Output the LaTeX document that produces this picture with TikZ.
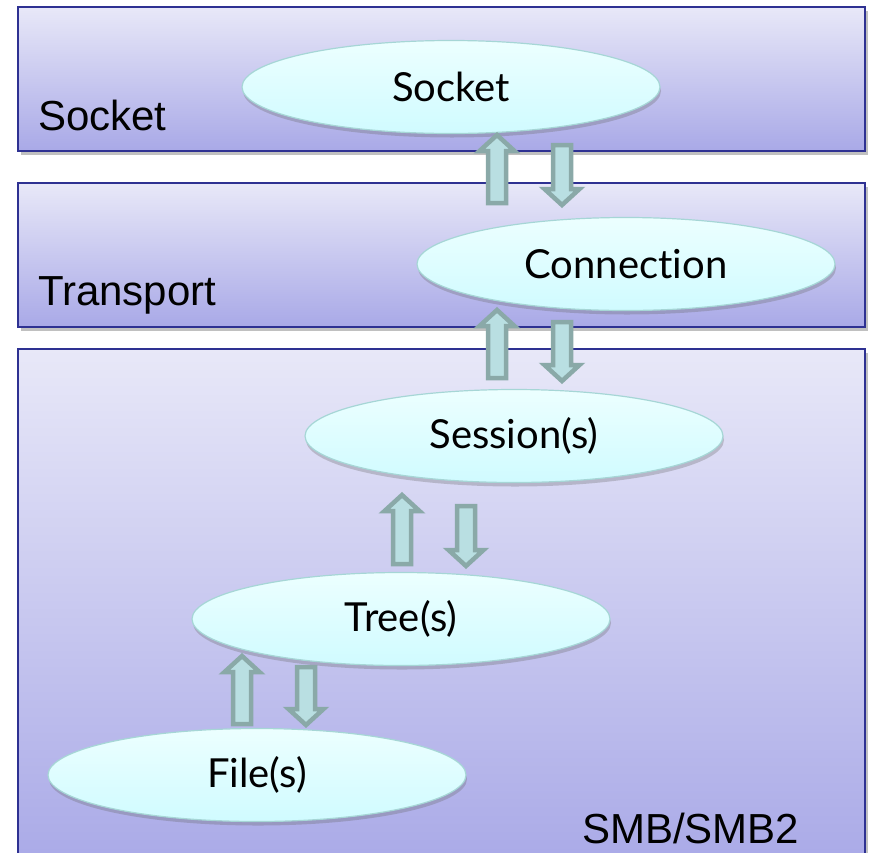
\documentclass[tikz,border=0pt]{standalone}
\usepackage{fontspec}
\setmainfont{Liberation Sans}
\newfontfamily\gill[Ligatures=NoCommon]{Lato}
\usetikzlibrary{shapes.geometric,shadows}
\definecolor{boxtop}{HTML}{E8E8F8}
\definecolor{boxbot}{HTML}{A9A9E7}
\definecolor{boxline}{HTML}{2E3192}
\definecolor{elltop}{HTML}{ECFFFF}
\definecolor{ellbot}{HTML}{D0FBFF}
\definecolor{ellline}{HTML}{A6D6D6}
\definecolor{arrfill}{HTML}{B9DFE2}
\definecolor{arrline}{HTML}{8AA9A8}
\tikzset{
  layerbox/.style={draw=boxline, line width=1.5pt, top color=boxtop, bottom color=boxbot,
    drop shadow={shadow xshift=3pt, shadow yshift=-4pt, opacity=0.35, fill=black!70},
    anchor=north west, inner sep=0pt, minimum width=847pt},
  layerlabel/.style={font=\fontsize{42}{48}\selectfont, anchor=base west, inner sep=0pt},
  entity/.style={ellipse, draw=ellline, line width=1.2pt, top color=elltop, bottom color=ellbot,
    minimum width=418pt, minimum height=93pt, inner sep=0pt,
    drop shadow={shadow xshift=1pt, shadow yshift=-4pt, opacity=0.3, fill=black!60},
    font=\gill\fontsize{40}{46}\selectfont},
  blockarrow/.style={draw=arrline, fill=arrfill, line width=4.5pt, line join=miter}
}
\newcommand\blockup[3]{% x, tip y, bottom y
  \draw[blockarrow] (#1-9,#3) -- (#1-9,#2+19) -- (#1-17.5,#2+19) -- (#1,#2+3)
    -- (#1+17.5,#2+19) -- (#1+9,#2+19) -- (#1+9,#3) -- cycle;}
\newcommand\blockdown[3]{% x, top y, tip y
  \draw[blockarrow] (#1-9,#2) -- (#1-9,#3-19) -- (#1-17.5,#3-19) -- (#1,#3-3)
    -- (#1+17.5,#3-19) -- (#1+9,#3-19) -- (#1+9,#2) -- cycle;}
\newcommand\etext[1]{\raisebox{-3pt}{#1}}
\begin{document}
\begin{tikzpicture}[x=1pt,y=-1pt]
\useasboundingbox (0,0) rectangle (869,852);
\clip (0,0) rectangle (869,852);
\fill[white] (0,0) rectangle (869,852);
% layers
\node[layerbox, minimum height=144pt] (socketbox) at (17,6) {};
\node[layerbox, minimum height=144pt] (transportbox) at (17,182) {};
\node[layerbox, minimum height=520pt] (smbbox) at (17,348) {};
\node[layerlabel] (socketlabel) at (38,130) {Socket};
\node[layerlabel] (transportlabel) at (38,305) {Transport};
\node[layerlabel] (smblabel) at (582,843) {SMB/SMB2};
% entities
\node[entity] (socket) at (451,87) {\etext{Socket}};
\node[entity] (connection) at (626,264) {\etext{Connection}};
\node[entity] (session) at (514,436) {\etext{Session(s)}};
\node[entity] (tree) at (401,619) {\etext{Tree(s)}};
\node[entity] (file) at (257,775) {\etext{File(s)}};
% arrows
\blockup{497}{132}{203}
\blockdown{562}{145}{208}
\blockup{497}{307}{378}
\blockdown{562}{322}{384}
\blockup{402}{492}{564}
\blockdown{466}{506}{569}
\blockup{242}{653}{724}
\blockdown{306}{667}{728}
\end{tikzpicture}
\end{document}
